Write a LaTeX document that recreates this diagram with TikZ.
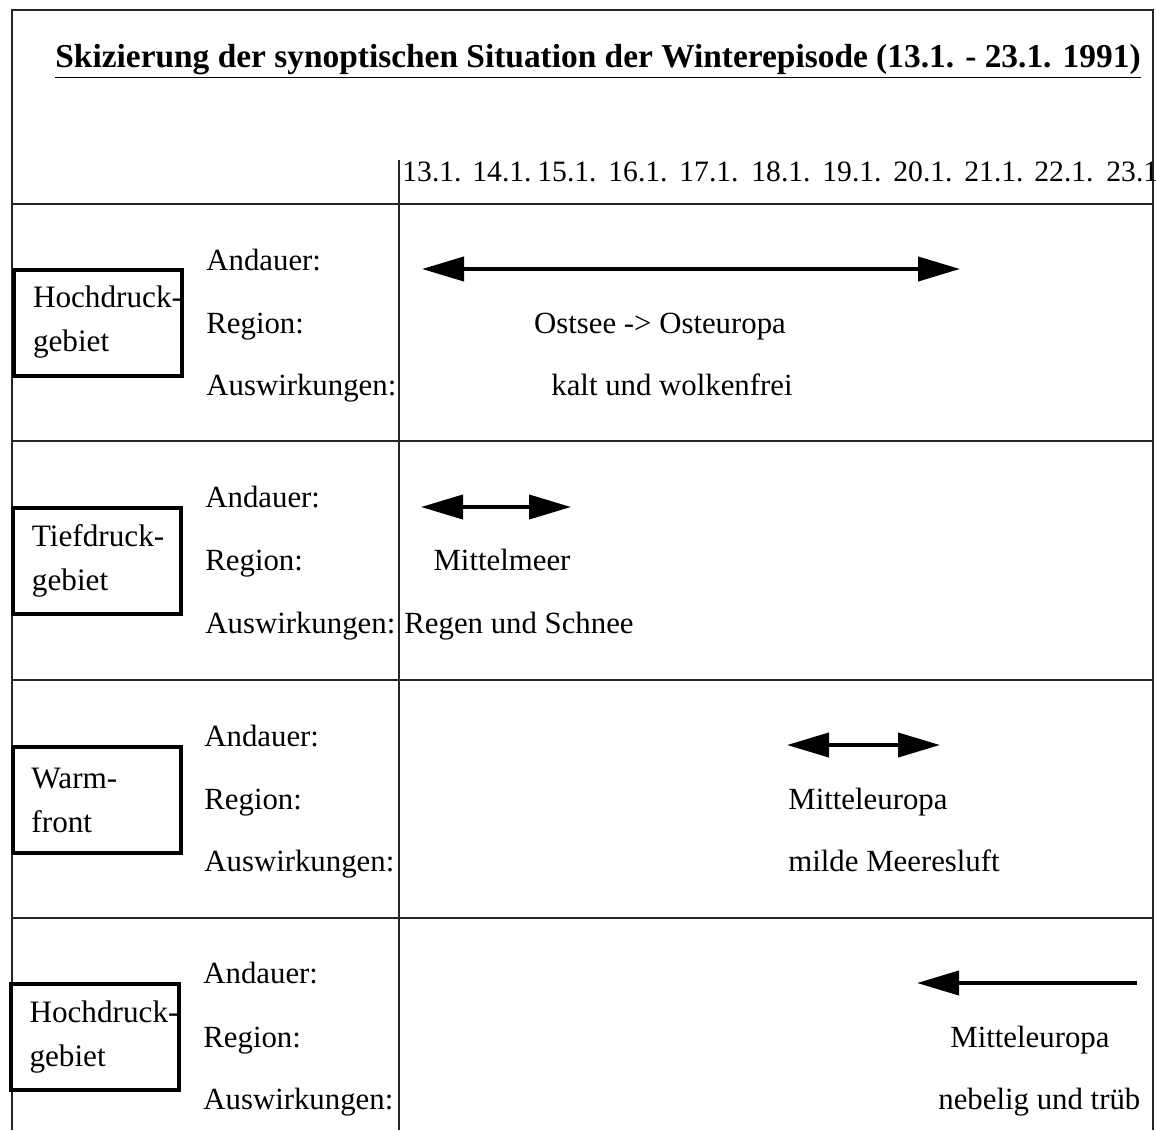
\documentclass[tikz,border=0pt]{standalone}
\usepackage{fontspec}
\setmainfont{Liberation Serif}
\usetikzlibrary{arrows.meta, positioning}
\newcommand{\boxwidth}{84pt}
\newcommand{\boxheight}{53pt}
\tikzstyle{systembox} = [% framed name of the weather system
  rectangle,
  draw=black,
  line width=2pt,
  minimum height=\boxheight,
  text width=65pt,
  inner xsep=9.5pt,
  align=left,
  font=\fontsize{15.6}{22}\selectfont
]
\tikzstyle{rowlabel} = [% Andauer / Region / Auswirkungen
  anchor=base west,
  inner sep=0pt
]
\tikzstyle{entry} = [% text in the time table
  anchor=base,
  inner sep=0pt
]
\tikzstyle{datelabel} = [% day of the episode
  anchor=base west,
  inner sep=0pt,
  font=\fontsize{14.8}{18}\selectfont
]
\tikzstyle{gridline} = [% lines of the table
  line width=1pt,
  draw=black!85
]
\tikzstyle{duration} = [% arrow format
  line width=2pt,
  >={Triangle[length=21pt, width=12pt]}
]

\begin{document}
\begin{tikzpicture}[x=0.5pt, y=-0.5pt, font=\fontsize{15.4}{21}\selectfont]
\useasboundingbox (0,0) rectangle (1156,1130);

%%% Table
\draw[gridline] (12,1130) -- (12,10) -- (1153,10) -- (1153,1130);
\draw[gridline] (12,204) -- (1153,204);
\draw[gridline] (12,441) -- (1153,441);
\draw[gridline] (12,680) -- (1153,680);
\draw[gridline] (12,918) -- (1153,918);
\draw[gridline] (399,160) -- (399,1130);

%%% Title and dates
\node[anchor=base west, inner sep=0pt, font=\fontsize{16.7}{20}\selectfont\bfseries] (title) at (55,67)
  {\underline{Skizierung der synoptischen Situation der Winterepisode (13.1. - 23.1. 1991)}};

\node[datelabel] (d13) at (402,181) {13.1.};
\node[datelabel] (d14) at (472,181) {14.1.};
\node[datelabel] (d15) at (537,181) {15.1.};
\node[datelabel] (d16) at (608,181) {16.1.};
\node[datelabel] (d17) at (679,181) {17.1.};
\node[datelabel] (d18) at (751,181) {18.1.};
\node[datelabel] (d19) at (822,181) {19.1.};
\node[datelabel] (d20) at (893,181) {20.1.};
\node[datelabel] (d21) at (964,181) {21.1.};
\node[datelabel] (d22) at (1034,181) {22.1.};
\node[datelabel] (d23) at (1106,181) {23.1};

%%% Hochdruckgebiet
\node[systembox] (hoch1box) at (98,322.5) {\mbox{Hochdruck-}\\gebiet};
\node[rowlabel] (andauer1) at (206,270) {Andauer:};
\node[rowlabel] (region1) at (206,333) {Region:};
\node[rowlabel] (wirkung1) at (206,395) {Auswirkungen:};
\node[entry] (ort1) at (660,333) {Ostsee -> Osteuropa};
\node[entry] (wetter1) at (672,395) {kalt und wolkenfrei};

%%% Tiefdruckgebiet
\node[systembox] (tief2box) at (97,561) {\mbox{Tiefdruck-}\\gebiet};
\node[rowlabel] (andauer2) at (205,507) {Andauer:};
\node[rowlabel] (region2) at (205,570) {Region:};
\node[rowlabel] (wirkung2) at (205,633) {Auswirkungen:};
\node[entry] (ort2) at (502,570) {Mittelmeer};
\node[entry, anchor=base west] (wetter2) at (404,633) {Regen und Schnee};

%%% Warmfront
\node[systembox] (warm3box) at (96.5,800) {\mbox{Warm-}\\front};
\node[rowlabel] (andauer3) at (204,746) {Andauer:};
\node[rowlabel] (region3) at (204,809) {Region:};
\node[rowlabel] (wirkung3) at (204,871) {Auswirkungen:};
\node[entry, anchor=base west] (ort3) at (788,809) {Mitteleuropa};
\node[entry, anchor=base west] (wetter3) at (788,871) {milde Meeresluft};

%%% Hochdruckgebiet
\node[systembox] (hoch4box) at (94.5,1037) {\mbox{Hochdruck-}\\gebiet};
\node[rowlabel] (andauer4) at (203,983) {Andauer:};
\node[rowlabel] (region4) at (203,1047) {Region:};
\node[rowlabel] (wirkung4) at (203,1109) {Auswirkungen:};
\node[entry, anchor=base west] (ort4) at (950,1047) {Mitteleuropa};
\node[entry, anchor=base west] (wetter4) at (938,1109) {nebelig und trüb};

%%% Arrows
\coordinate (hoch1start) at (422,269);
\coordinate (hoch1end) at (960,269);
\coordinate (tief2start) at (421,507);
\coordinate (tief2end) at (571,507);
\coordinate (warm3start) at (787,745);
\coordinate (warm3end) at (940,745);
\coordinate (hoch4start) at (1137,983);
\coordinate (hoch4end) at (917,983);

\draw[duration, <->] (hoch1start) -- (hoch1end);
\draw[duration, <->] (tief2start) -- (tief2end);
\draw[duration, <->] (warm3start) -- (warm3end);
\draw[duration, ->] (hoch4start) -- (hoch4end);

\end{tikzpicture}
\end{document}
